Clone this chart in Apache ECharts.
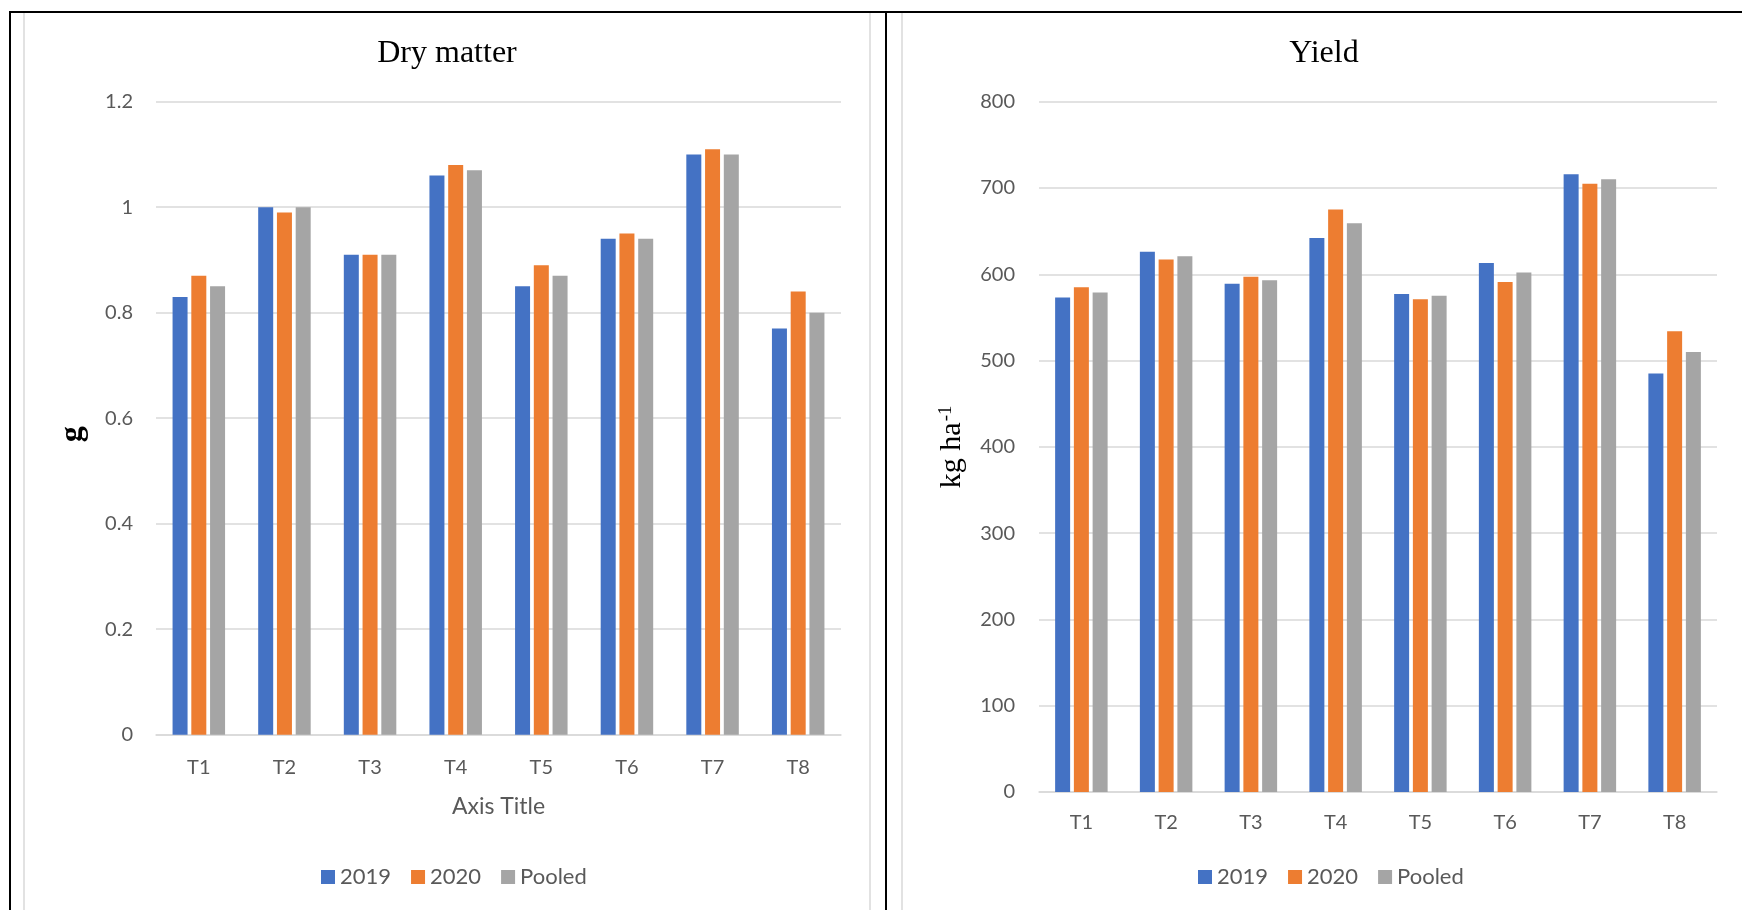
<!DOCTYPE html>
<html><head><meta charset="utf-8">
<script src="https://cdn.jsdelivr.net/npm/echarts@6/dist/echarts.min.js"></script>
<style>html,body{margin:0;padding:0;background:#fff}#c{width:1742px;height:910px}</style>
</head><body><div id="c"></div>
<script>
const categories = ['T1','T2','T3','T4','T5','T6','T7','T8'];
const seriesNames = ['2019','2020','Pooled'];
const dry2019 = [0.83,1.00,0.91,1.06,0.85,0.94,1.10,0.77];
const dry2020 = [0.87,0.99,0.91,1.08,0.89,0.95,1.11,0.84];
const dryPooled = [0.85,1.00,0.91,1.07,0.87,0.94,1.10,0.80];
const yield2019 = [573,626,589,642,577,613,716,485];
const yield2020 = [585,617,597,675,571,591,705,534];
const yieldPooled = [579,621,593,659,575,602,710,510];
const colors = ['#4472C4','#ED7D31','#A5A5A5'];

const chart = echarts.init(document.getElementById('c'));
const tickFont = {fontFamily:'Lato', fontSize:20, color:'#595959'};
const gridLine = {lineStyle:{color:'#d9d9d9', width:1.5}};

function xAxis(gridIndex, name, margin){
  return {type:'category', gridIndex, data:categories,
    axisTick:{show:false}, axisLine:{lineStyle:{color:'#d9d9d9', width:1.5}},
    axisLabel:Object.assign({margin:margin}, tickFont),
    name:name||'', nameLocation:'middle', nameGap:60,
    nameTextStyle:{fontFamily:'Lato', fontSize:23, color:'#595959'}};
}
function bars(xi, vals){
  return vals.map((v,i)=>({type:'bar', name:seriesNames[i], xAxisIndex:xi, yAxisIndex:xi,
    data:v, barWidth:15, barGap:'25%', itemStyle:{color:colors[i]}}));
}
const titleStyle = {fontFamily:'Liberation Serif', fontSize:32, fontWeight:'normal', color:'#000'};
const legendText = {fontFamily:'Lato', fontSize:22, color:'#595959'};
const option = {
  animation:false,
  color:colors,
  title:[
    {text:'Dry matter', left:447, top:38, padding:0, textAlign:'center', textStyle:titleStyle},
    {text:'Yield', left:1324, top:38, padding:0, textAlign:'center', textStyle:titleStyle}
  ],
  legend:[
    {data:seriesNames, left:321, top:866, padding:0, icon:'rect', itemWidth:14, itemHeight:14, itemGap:20, textStyle:legendText},
    {data:seriesNames, left:1198, top:866, padding:0, icon:'rect', itemWidth:14, itemHeight:14, itemGap:20, textStyle:legendText}
  ],
  grid:[
    {left:156, right:901, top:101.7, bottom:175.3},
    {left:1039, right:25, top:101.7, bottom:118}
  ],
  xAxis:[xAxis(0,'Axis Title',23), xAxis(1,'',21)],
  yAxis:[
    {type:'value', gridIndex:0, min:0, max:1.2, interval:0.2,
     axisLabel:Object.assign({margin:23}, tickFont), splitLine:gridLine,
     axisLine:{show:false}, axisTick:{show:false},
     name:'g', nameLocation:'middle', nameRotate:90, nameGap:67,
     nameTextStyle:{fontFamily:'Liberation Serif', fontSize:32, fontWeight:'bold', color:'#000', padding:[0,32,0,0]}},
    {type:'value', gridIndex:1, min:0, max:800, interval:100,
     axisLabel:Object.assign({margin:24}, tickFont), splitLine:gridLine,
     axisLine:{show:false}, axisTick:{show:false},
     name:'{a|kg ha}{b|-1}', nameLocation:'middle', nameRotate:90, nameGap:72,
     nameTextStyle:{color:'#000', rich:{
       a:{fontFamily:'Liberation Serif', fontSize:30, color:'#000'},
       b:{fontFamily:'Liberation Serif', fontSize:19, color:'#000', verticalAlign:'top', padding:[0,0,0,1]}
     }}}
  ],
  series:[].concat(bars(0,[dry2019,dry2020,dryPooled]), bars(1,[yield2019,yield2020,yieldPooled])),
  graphic:[
    {type:'line', shape:{x1:24,y1:12,x2:24,y2:910}, style:{stroke:'#d9d9d9', lineWidth:1.5}, silent:true},
    {type:'line', shape:{x1:870,y1:12,x2:870,y2:910}, style:{stroke:'#d9d9d9', lineWidth:1.5}, silent:true},
    {type:'line', shape:{x1:902,y1:12,x2:902,y2:910}, style:{stroke:'#d9d9d9', lineWidth:1.5}, silent:true},
    {type:'line', shape:{x1:9,y1:12,x2:1742,y2:12}, style:{stroke:'#000', lineWidth:2}, silent:true},
    {type:'line', shape:{x1:10,y1:11,x2:10,y2:910}, style:{stroke:'#000', lineWidth:2}, silent:true},
    {type:'line', shape:{x1:886,y1:11,x2:886,y2:910}, style:{stroke:'#000', lineWidth:2}, silent:true}
  ]
};
chart.setOption(option);
</script></body></html>
